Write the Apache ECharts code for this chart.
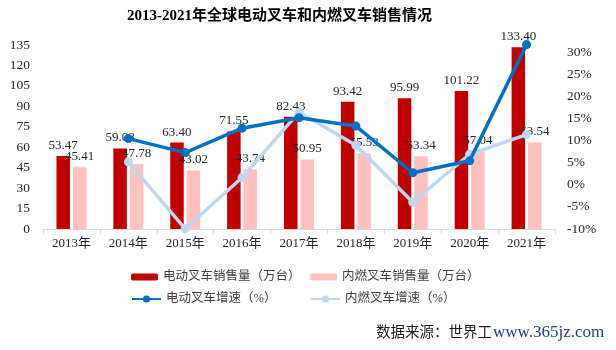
<!DOCTYPE html>
<html><head><meta charset="utf-8">
<script src="https://cdn.jsdelivr.net/npm/echarts@6/dist/echarts.min.js"></script>
<style>html,body{margin:0;padding:0;background:#fff}#c{width:616px;height:350px}</style>
</head><body><div id="c"></div>
<script>
var years = ['2013年','2014年','2015年','2016年','2017年','2018年','2019年','2020年','2021年'];
var evSales = [53.47,59.08,63.40,71.55,82.43,93.42,95.99,101.22,133.40];
var iceSales = [45.41,47.78,43.02,43.74,50.95,55.53,53.34,57.04,63.54];
var evGrowth = [null,10.49,7.31,12.85,15.21,13.33,2.75,5.45,31.79];
var iceGrowth = [null,5.22,-9.96,1.67,16.48,8.99,-3.94,6.94,11.40];
var names = ['电动叉车销售量（万台）','内燃叉车销售量（万台）','电动叉车增速（%）','内燃叉车增速（%）'];
var serif = "'Liberation Serif','Times New Roman','Noto Sans CJK SC',serif";
var chart = echarts.init(document.getElementById('c'));
function lg(name, left, top, w, h){
  return {data:[name], left:left, top:top, itemWidth:w, itemHeight:h, itemGap:5, selectedMode:false,
    textStyle:{fontFamily:serif, fontSize:12.5, color:'#404040', lineHeight:14}};
}
var barLabel = {show:true, position:'top', distance:4, fontFamily:serif, fontSize:13, color:'#262626',
  formatter:function(p){return p.value.toFixed(2);}};
chart.setOption({
  animation:false,
  title:{text:'2013-2021年全球电动叉车和内燃叉车销售情况', left:122, top:4,
    textStyle:{fontFamily:serif, fontSize:15, fontWeight:'bold', color:'#000'}},
  legend:[lg(names[0],126,265,27,7), lg(names[1],305,265,27,7), lg(names[2],126,287,29,9), lg(names[3],305,287,29,9)],
  grid:{left:43, right:61, top:45, bottom:121},
  xAxis:{type:'category', data:years, boundaryGap:true,
    axisLine:{lineStyle:{color:'#D9D9D9', width:1}},
    axisTick:{show:true, length:5, lineStyle:{color:'#D9D9D9'}},
    axisLabel:{fontFamily:serif, fontSize:13, color:'#262626', margin:8}},
  yAxis:[
    {type:'value', min:0, max:135, interval:15, splitLine:{show:false}, axisLine:{show:false}, axisTick:{show:false},
     axisLabel:{fontFamily:serif, fontSize:13.5, color:'#262626', margin:13}},
    {type:'value', min:-10, max:31.7, interval:5, splitLine:{show:false}, axisLine:{show:false}, axisTick:{show:false},
     axisLabel:{fontFamily:serif, fontSize:13.5, color:'#262626', margin:12, align:'left',
       formatter:function(v){return (Math.abs(v % 5) < 1e-6) ? Math.round(v)+'%' : '';}}}
  ],
  series:[
    {name:names[0], type:'bar', data:evSales, barWidth:13.5, barGap:'22%', itemStyle:{color:'#C00000'}, label:barLabel},
    {name:names[1], type:'bar', data:iceSales, barWidth:13.5, barGap:'22%', itemStyle:{color:'#FFC0C0'}, label:barLabel},
    {name:names[2], type:'line', yAxisIndex:1, data:evGrowth, symbol:'circle', symbolSize:9, clip:false,
     lineStyle:{color:'#0070C0', width:3.5}, itemStyle:{color:'#0070C0'}, z:5},
    {name:names[3], type:'line', yAxisIndex:1, data:iceGrowth, symbol:'circle', symbolSize:9, clip:false,
     lineStyle:{color:'#BDD7EE', width:3.5}, itemStyle:{color:'#BDD7EE'}, z:4}
  ],
  graphic:[
    {type:'text', left:376, top:326, style:{text:'数据来源：世界工', font:"14.5px 'Liberation Serif','Noto Sans CJK SC',serif", fill:'#1a1a1a'}},
    {type:'text', left:493, top:324, style:{text:'www.365jz.com', font:"17px 'Liberation Serif',serif", fill:'#1F3D7A'}}
  ]
});
</script></body></html>
